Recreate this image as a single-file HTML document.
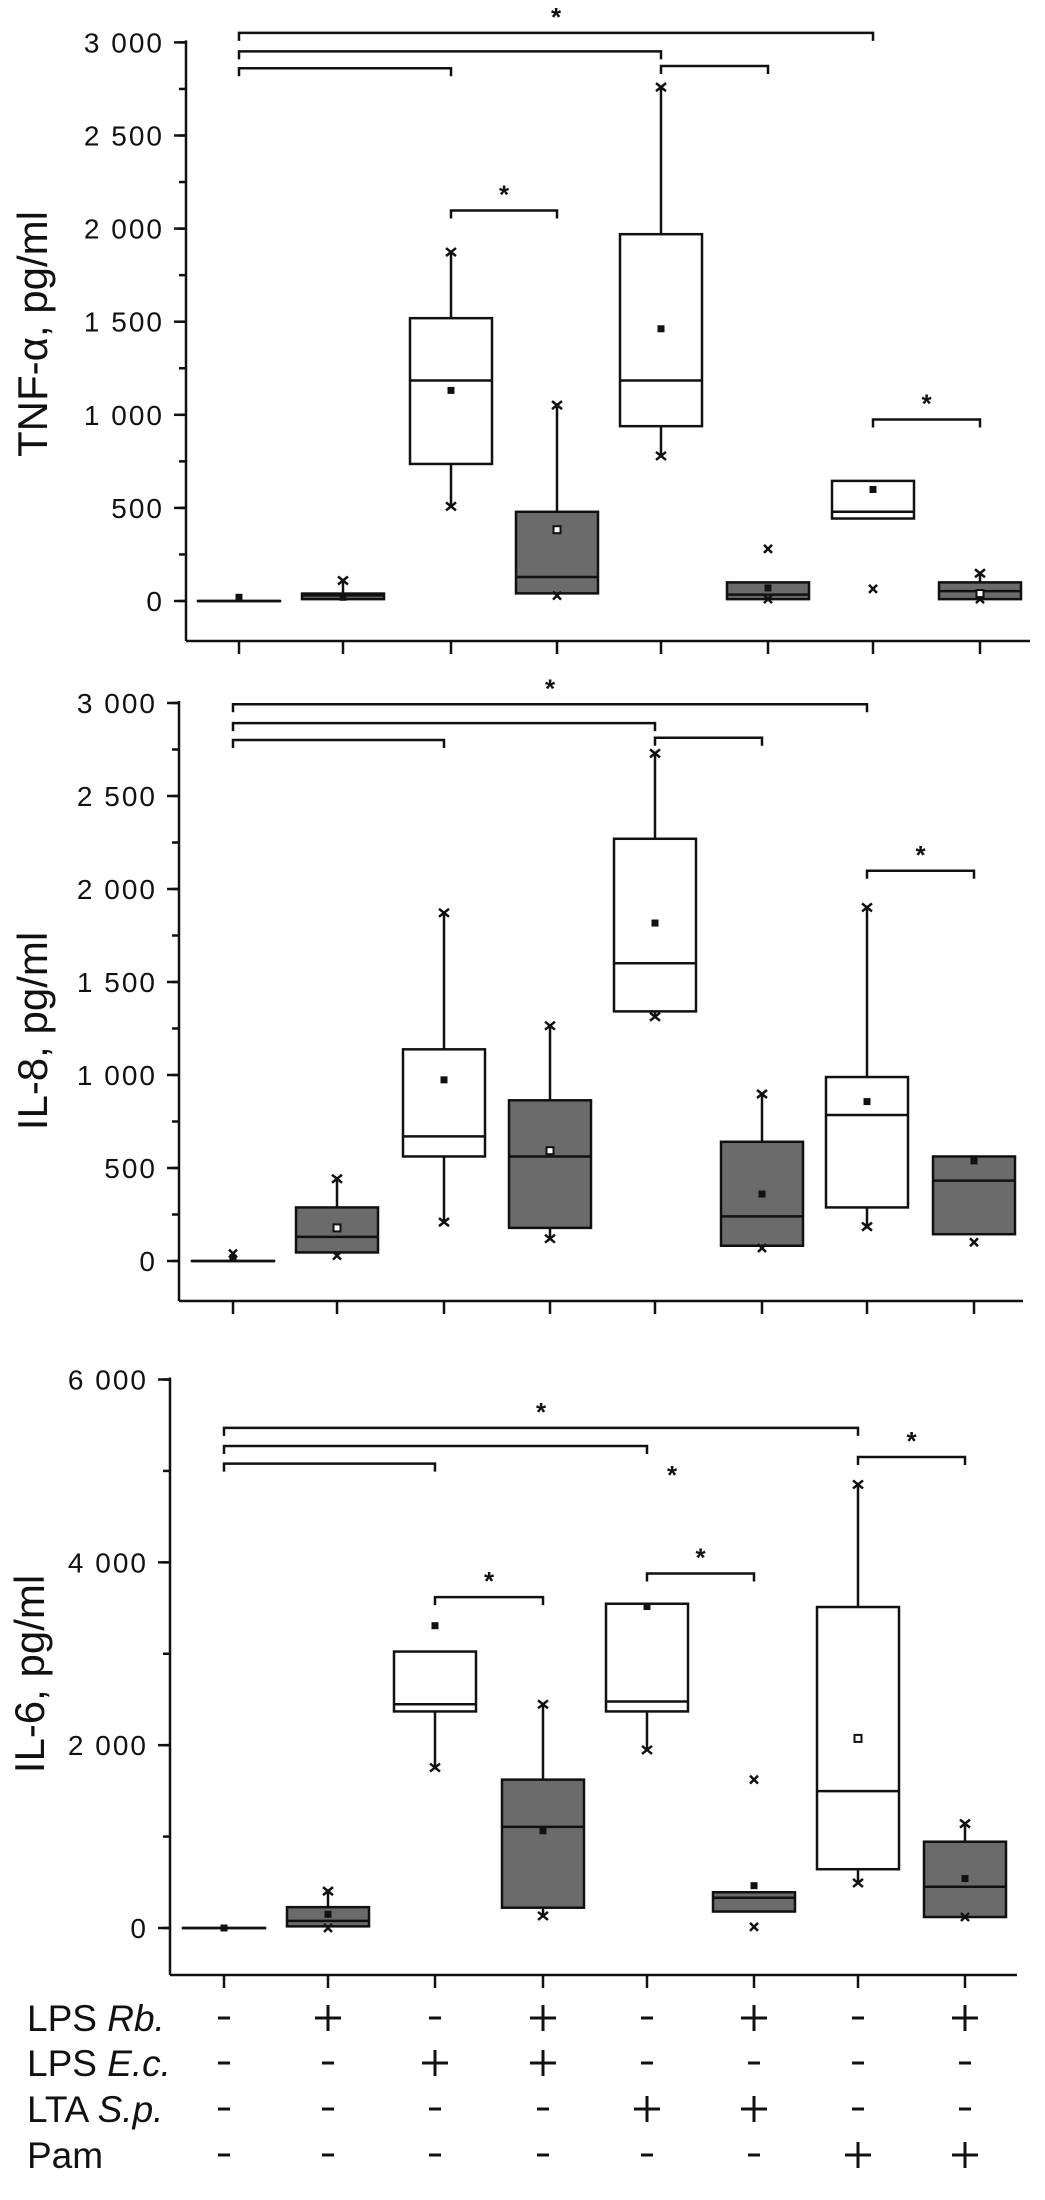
<!DOCTYPE html>
<html><head><meta charset="utf-8">
<style>
html,body{margin:0;padding:0;background:#fff;}
svg{display:block;}
text{font-family:"Liberation Sans",sans-serif;fill:#111;}
</style></head>
<body>
<svg id="chart" width="1045" height="2200" viewBox="0 0 1045 2200" xmlns="http://www.w3.org/2000/svg"></svg>
<script>
// ---- shared ----
var groups = ["g1","g2","g3","g4","g5","g6","g7","g8"];
var gray = [false,true,false,true,false,true,false,true];

// ---- Panel 1: TNF-alpha ----
var tnfQ1     = [0, 10, 736, 41, 939, 10, 443, 10];
var tnfMedian = [0, 30, 1184, 129, 1184, 34, 479, 53];
var tnfQ3     = [0, 40, 1519, 479, 1970, 100, 645, 100];
var tnfWlo    = [null, null, 508, null, 779, null, null, null];
var tnfWhi    = [null, 110, 1874, 1052, 2760, null, null, 149];
var tnfMean   = [20, 20, 1131, 383, 1462, 70, 599, 40];
var tnfOut    = [[], [], [], [29], [], [280, 10], [65], [10]];
var tnfTicks  = [0, 500, 1000, 1500, 2000, 2500, 3000];
var tnfTickLabels = ["0","500","1 000","1 500","2 000","2 500","3 000"];

// ---- Panel 2: IL-8 ----
var il8Q1     = [0, 46, 562, 178, 1342, 82, 288, 144];
var il8Median = [0, 130, 670, 562, 1601, 240, 785, 432];
var il8Q3     = [0, 288, 1138, 864, 2270, 641, 989, 562];
var il8Wlo    = [null, null, 209, 120, 1313, null, 185, null];
var il8Whi    = [null, 442, 1872, 1265, 2729, 898, 1901, null];
var il8Mean   = [17, 178, 974, 593, 1817, 360, 857, 538];
var il8Out    = [[40], [29], [], [], [], [70], [], [101]];
var il8Ticks  = [0, 500, 1000, 1500, 2000, 2500, 3000];
var il8TickLabels = ["0","500","1 000","1 500","2 000","2 500","3 000"];

// ---- Panel 3: IL-6 ----
var il6Q1     = [0, 18, 2369, 222, 2369, 180, 643, 120];
var il6Median = [0, 78, 2447, 1106, 2477, 331, 1497, 451];
var il6Q3     = [0, 228, 3024, 1623, 3547, 391, 3511, 944];
var il6Wlo    = [null, null, 1755, 132, 1948, null, 493, null];
var il6Whi    = [null, 403, null, 2447, null, null, 4852, 1142];
var il6Mean   = [0, 150, 3307, 1064, 3517, 463, 2074, 541];
var il6Out    = [[], [0], [], [], [], [1623, 12], [], [120]];
var il6Ticks  = [0, 2000, 4000, 6000];
var il6TickLabels = ["0","2 000","4 000","6 000"];

var hollow1 = [false,false,false,true,false,false,false,true];
var hollow2 = [false,true,false,true,false,false,false,false];
var hollow3 = [false,false,false,false,false,false,true,false];

// brackets: [from group, to group, value, star]
var tnfBrackets = [[0,6,3051,true],[0,4,2952,false],[0,2,2861,false],[4,5,2873,false],[2,3,2097,true],[6,7,975,true]];
var il8Brackets = [[0,6,2993,true],[0,4,2892,false],[0,2,2801,false],[4,5,2813,false],[6,7,2098,true]];
var il6Brackets = [[0,6,5471,true],[0,4,5273,false],[0,2,5080,false],[6,7,5152,true],[2,3,3619,true],[4,5,3878,true]];

var tableRows = [["LPS ","Rb."],["LPS ","E.c."],["LTA ","S.p."],["Pam",""]];
var tableSigns = [
 ["-","+","-","+","-","+","-","+"],
 ["-","-","+","+","-","-","-","-"],
 ["-","-","-","-","+","+","-","-"],
 ["-","-","-","-","-","-","+","+"]];

var svg = document.getElementById('chart');
var NS = "http://www.w3.org/2000/svg";
function mk(tag, attrs, parent){
  var e = document.createElementNS(NS, tag);
  for (var k in attrs) e.setAttribute(k, attrs[k]);
  (parent||svg).appendChild(e); return e;
}

var panels = [
 {name:"tnf", title:"TNF-α, pg/ml", axX:186, y0:601, yTop:42.4, vTop:3000, axY:641, xs:[239,343,451,557,661,768,873,980], right:1030, minor:250,
  q1:tnfQ1, med:tnfMedian, q3:tnfQ3, wlo:tnfWlo, whi:tnfWhi, mean:tnfMean, out:tnfOut, ticks:tnfTicks, labels:tnfTickLabels, br:tnfBrackets, hol:hollow1, tx:33, ty:320},
 {name:"il8", title:"IL-8, pg/ml", axX:179, y0:1261, yTop:703, vTop:3000, axY:1301, xs:[233,337,444,550,655,762,867,974], right:1023, minor:250,
  q1:il8Q1, med:il8Median, q3:il8Q3, wlo:il8Wlo, whi:il8Whi, mean:il8Mean, out:il8Out, ticks:il8Ticks, labels:il8TickLabels, br:il8Brackets, hol:hollow2, tx:33, ty:1017},
 {name:"il6", title:"IL-6, pg/ml", axX:170, y0:1928, yTop:1379.5, vTop:6000, axY:1975, xs:[224,328,435,543,647,754,858,965], right:1017, minor:1000,
  q1:il6Q1, med:il6Median, q3:il6Q3, wlo:il6Wlo, whi:il6Whi, mean:il6Mean, out:il6Out, ticks:il6Ticks, labels:il6TickLabels, br:il6Brackets, hol:hollow3, tx:30, ty:1660}
];

panels.forEach(function(p){
  var g = mk('g', {});
  
  
  function Y(v){ return p.y0 - (v / p.vTop) * (p.y0 - p.yTop); }
  var topY = p.yTop;
  var ya = mk('line', {x1:p.axX, y1:topY-2, x2:p.axX, y2:p.axY, stroke:'#111','stroke-width':2.5}, g);
  
  
  var xa = mk('line', {x1:p.axX, y1:p.axY, x2:p.right, y2:p.axY, stroke:'#111','stroke-width':2.5}, g);
  
  
  for (var v = 0; v <= p.vTop; v += p.minor) {
    mk('line', {x1:p.axX-7, y1:Y(v), x2:p.axX, y2:Y(v), stroke:'#111','stroke-width':2.5}, g);
  }
  p.ticks.forEach(function(t, i){
    mk('line', {x1:p.axX-12, y1:Y(t), x2:p.axX, y2:Y(t), stroke:'#111','stroke-width':2.5}, g);
    var tl = mk('text', {x:p.axX-22, y:Y(t)+10, 'text-anchor':'end','font-size':28,'letter-spacing':'2'}, g);
    tl.textContent = p.labels[i];
    
    
  });
  p.xs.forEach(function(x){
    mk('line', {x1:x, y1:p.axY, x2:x, y2:p.axY+13, stroke:'#111','stroke-width':2.5}, g);
  });
  var tt = mk('text', {x:p.tx, y:p.ty, 'text-anchor':'middle','font-size':42, transform:'rotate(-90 '+(p.tx+14)+' '+p.ty+')'}, g);
  tt.textContent = p.title;
  
  
  var hw = 41;
  groups.forEach(function(gn, i){
    var x = p.xs[i];
    var bg = mk('g', {}, g);
    
    
    if (p.whi[i] !== null) {
      mk('line', {x1:x, y1:Y(p.q3[i]), x2:x, y2:Y(p.whi[i]), stroke:'#111','stroke-width':2.5}, bg);
      mk('path', {d:'M'+(x-5)+' '+(Y(p.whi[i])-4)+' L'+(x+5)+' '+(Y(p.whi[i])+4)+' M'+(x+5)+' '+(Y(p.whi[i])-4)+' L'+(x-5)+' '+(Y(p.whi[i])+4), stroke:'#111','stroke-width':2.5}, bg);
    }
    if (p.wlo[i] !== null) {
      mk('line', {x1:x, y1:Y(p.q1[i]), x2:x, y2:Y(p.wlo[i]), stroke:'#111','stroke-width':2.5}, bg);
      mk('path', {d:'M'+(x-5)+' '+(Y(p.wlo[i])-4)+' L'+(x+5)+' '+(Y(p.wlo[i])+4)+' M'+(x+5)+' '+(Y(p.wlo[i])-4)+' L'+(x-5)+' '+(Y(p.wlo[i])+4), stroke:'#111','stroke-width':2.5}, bg);
    }
    var top = Y(p.q3[i]), bot = Y(p.q1[i]);
    mk('rect', {x:x-hw, y:top, width:hw*2, height:Math.max(bot-top,0.1), fill: gray[i] ? '#6b6b6b' : '#fff', stroke:'#111','stroke-width':2.5}, bg);
    mk('line', {x1:x-hw, y1:Y(p.med[i]), x2:x+hw, y2:Y(p.med[i]), stroke:'#111','stroke-width':2.5}, bg);
    p.out[i].forEach(function(o){
      mk('path', {d:'M'+(x-4)+' '+(Y(o)-4)+' L'+(x+4)+' '+(Y(o)+4)+' M'+(x+4)+' '+(Y(o)-4)+' L'+(x-4)+' '+(Y(o)+4), stroke:'#111','stroke-width':2.5}, bg);
    });
    var m = mk('rect', {x:x-3.5, y:Y(p.mean[i])-3.5, width:7, height:7, fill: p.hol[i] ? '#fff' : '#111', stroke:'#111','stroke-width':p.hol[i]?2:0}, bg);
    
    
  });
  p.br.forEach(function(b){
    var x1 = p.xs[b[0]], x2 = p.xs[b[1]], y = Y(b[2]);
    var bk = mk('path', {d:'M'+x1+' '+(y+8)+' L'+x1+' '+y+' L'+x2+' '+y+' L'+x2+' '+(y+8), fill:'none', stroke:'#111','stroke-width':2.5}, g);
    
    
    if (b[3]) {
      var st = mk('text', {x:(x1+x2)/2, y:y-7, 'text-anchor':'middle','font-size':26,'font-weight':'bold'}, g);
      st.textContent = '*';
      
      
    }
  });
});
var ls = mk('text', {x:672, y:1928 - 4969/6000*548.5 + 10, 'text-anchor':'middle','font-size':26,'font-weight':'bold'});
ls.textContent = '*';



var rowY = [2018, 2063, 2109, 2155];
var tx = panels[2].xs;
tableRows.forEach(function(r, i){
  var t = mk('text', {x:27, y:rowY[i]+13, 'font-size':37});
  
  
  var s1 = mk('tspan', {}, t); s1.textContent = r[0];
  if (r[1]) { var s2 = mk('tspan', {'font-style':'italic'}, t); s2.textContent = r[1]; }
  tableSigns[i].forEach(function(s, j){
    var e;
    if (s === '+') {
      e = mk('path', {d:'M'+(tx[j]-13)+' '+rowY[i]+' L'+(tx[j]+13)+' '+rowY[i]+' M'+tx[j]+' '+(rowY[i]-13)+' L'+tx[j]+' '+(rowY[i]+13), stroke:'#111','stroke-width':3});
    } else {
      e = mk('line', {x1:tx[j]-6, y1:rowY[i], x2:tx[j]+6, y2:rowY[i], stroke:'#111','stroke-width':3});
    }
    
    
  });
});
</script>
</body></html>
